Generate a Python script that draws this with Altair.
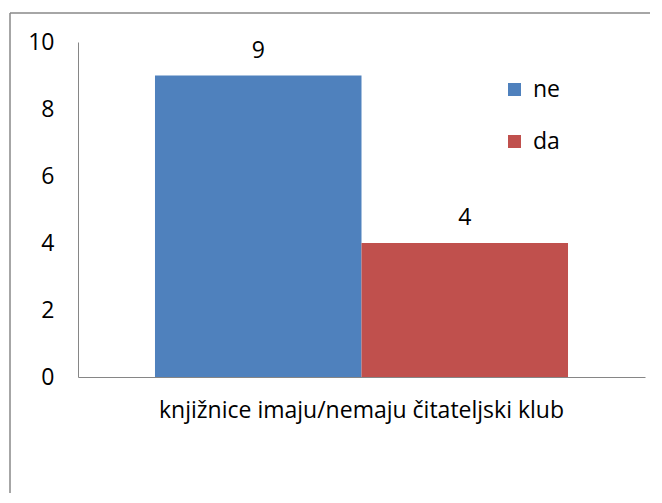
import altair as alt
import pandas as pd

category = ["knjižnice imaju/nemaju čitateljski klub"]
series = ["ne", "da"]
values = [9, 4]
colors = ["#4F81BD", "#C0504D"]
y_ticks = [0, 2, 4, 6, 8, 10]

df = pd.DataFrame({
    "kat": category * len(series),
    "serija": series,
    "broj": values,
})

FONT = "Open Sans"
FS = 23

x_enc = alt.X("kat:N", title=None,
              scale=alt.Scale(paddingInner=0, paddingOuter=0.1864),
              axis=alt.Axis(labelAngle=0, ticks=False, domainColor="#868686",
                            labelFont=FONT, labelFontSize=FS, labelColor="#000000",
                            labelPadding=22, labelLimit=0))
xoff = alt.XOffset("serija:N", sort=series, scale=alt.Scale(paddingInner=0, paddingOuter=0))

bars = alt.Chart(df).mark_bar().encode(
    x=x_enc,
    xOffset=xoff,
    y=alt.Y("broj:Q", title=None,
            scale=alt.Scale(domain=[0, 10], nice=False),
            axis=alt.Axis(values=y_ticks, ticks=False, grid=False, domainColor="#868686",
                          labelFont=FONT, labelFontSize=FS, labelColor="#000000",
                          labelPadding=24)),
    color=alt.Color("serija:N", sort=series,
                    scale=alt.Scale(domain=series, range=colors),
                    legend=alt.Legend(title=None, orient="none", legendX=425, legendY=36,
                                      symbolType="square", symbolSize=169,
                                      symbolStrokeWidth=0, labelFont=FONT,
                                      labelFontSize=FS, labelColor="#000000",
                                      rowPadding=28, labelOffset=7, padding=0)),
)

labels = alt.Chart(df).mark_text(font=FONT, fontSize=FS, color="#000000",
                                 baseline="alphabetic", dy=-18).encode(
    x=alt.X("kat:N"),
    xOffset=xoff,
    y=alt.Y("broj:Q"),
    text=alt.Text("broj:Q"),
)

one = pd.DataFrame({"k": [0]})
frame_left = alt.Chart(one).mark_rule(color="#888888", strokeWidth=1.5).encode(
    x=alt.value(-68), y=alt.value(-29), y2=alt.value(600))
frame_top = alt.Chart(one).mark_rule(color="#888888", strokeWidth=1.5).encode(
    x=alt.value(-68), x2=alt.value(700), y=alt.value(-29))

chart = alt.layer(frame_left, frame_top, bars, labels).properties(
    width=567, height=335,
    padding={"left": 70, "top": 34, "right": 5, "bottom": 116},
    autosize=alt.AutoSizeParams(type="none"),
).configure_view(stroke=None)

chart.save("out.html", embed_options={"renderer": "svg", "actions": False})
